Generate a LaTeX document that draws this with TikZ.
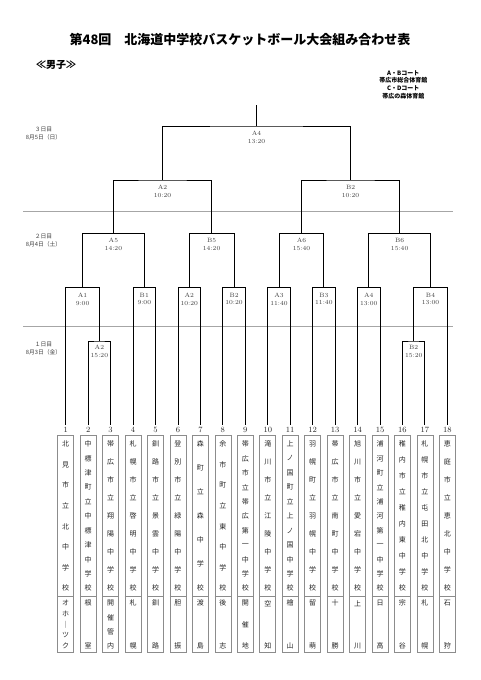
\documentclass[tikz,border=0pt]{standalone}
\usepackage{fontspec}
\newfontfamily\jp{Noto Sans CJK JP}
\usetikzlibrary{calc}
\newcommand\myteam[4]{%
  \node[num] (n#1) at (#2,430) {#1};
  \node[tbox] (box#1) at (#2,544.2) {};
  \coordinate (dv#1) at (#2,596);
  \draw[tline] (dv#1 -| box#1.west) -- (dv#1 -| box#1.east);
  \foreach \c [count=\n] in {#3} {\xdef\mycnt{\n}}
  \foreach \c [count=\k] in {#3} {\node[bchar] (c#1-\k) at (#2,{444+(\k-1)*144.3/(\mycnt-1)}) {\c};}
  \foreach \c [count=\n] in {#4} {\xdef\mycnt{\n}}
  \foreach \c [count=\k] in {#4} {\node[bchar] (d#1-\k) at (#2,{603.3+(\k-1)*42.4/(\mycnt-1)}) {\c};}
}
\begin{document}
\begin{tikzpicture}[x=1pt,y=-1pt,
  bline/.style={line width=0.9pt,black},
  sepline/.style={line width=0.8pt,black!35},
  tline/.style={line width=0.6pt,black!45},
  tbox/.style={draw=black!45,line width=0.7pt,minimum width=16pt,minimum height=217pt,inner sep=0pt},
  bchar/.style={font=\jp\fontsize{7}{7}\selectfont,text=black!85,inner sep=0pt},
  num/.style={font=\fontsize{8}{8}\selectfont,text=black!85,inner sep=0pt},
  mlabel/.style={font=\fontsize{6.2}{7.8}\selectfont,text=black!75,align=center,inner sep=0pt,anchor=north},
  daylbl/.style={font=\jp\fontsize{5.8}{7.7}\selectfont,text=black!75,align=center,inner sep=0pt}]
\useasboundingbox[fill=white] (0,0) rectangle (481,680);

% headings
\node[font=\jp\bfseries\fontsize{13}{13}\selectfont,inner sep=0pt] (title) at (240,40) {第48回　北海道中学校バスケットボール大会組み合わせ表};
\node[font=\jp\bfseries\fontsize{10}{10}\selectfont,anchor=west,inner sep=0pt] (boys) at (36,65) {≪男子≫};
\node[font=\jp\bfseries\fontsize{6}{7.7}\selectfont,align=center,inner sep=0pt] (courts) at (403.3,84.5) {A・Bコート\\帯広市総合体育館\\C・Dコート\\帯広の森体育館};

% day labels
\node[daylbl] (day3) at (43.5,133.8) {３日目\\8月5日（日）};
\node[daylbl] (day2) at (43.5,240.5) {２日目\\8月4日（土）};
\node[daylbl] (day1) at (43.5,348.6) {１日目\\8月3日（金）};

% separator lines
\coordinate (s1l) at (23.3,211); \coordinate (s1r) at (453.3,211);
\coordinate (s2l) at (23.3,326); \coordinate (s2r) at (453.3,326);
\draw[sepline] (s1l) -- (s1r);
\draw[sepline] (s2l) -- (s2r);

% team tops
\foreach \i/\xx in {1/65.70,2/88.15,3/110.60,4/133.05,5/155.50,6/177.95,7/200.40,8/222.85,9/245.30,10/267.75,11/290.20,12/312.65,13/335.10,14/357.55,15/380.00,16/402.45,17/424.90,18/447.35}
  {\coordinate (t\i) at (\xx,425);}

% match points
\coordinate (r1a) at (99.375,341);
\coordinate (r1b) at (413.675,341);
\coordinate (d2a1) at (82.5375,287.7);
\coordinate (d2b1) at (144.275,287.7);
\coordinate (d2a2) at (189.175,287.7);
\coordinate (d2b2) at (234.075,287.7);
\coordinate (d2a3) at (278.975,287.7);
\coordinate (d2b3) at (323.875,287.7);
\coordinate (d2a4) at (368.775,287.7);
\coordinate (d2b4) at (430.5125,287.7);
\coordinate (a5) at (113.40625,233.3);
\coordinate (b5) at (211.625,233.3);
\coordinate (a6) at (301.425,233.3);
\coordinate (b6) at (399.64375,233.3);
\coordinate (a2) at (162.515625,180);
\coordinate (b2) at (350.534375,180);
\coordinate (a4) at (256.525,126);
\coordinate (top) at (256.525,105);

% brackets
\draw[bline] (t2) |- (r1a) -| (t3);
\draw[bline] (t16) |- (r1b) -| (t17);
\draw[bline] (t1) |- (d2a1) -| (r1a);
\draw[bline] (t4) |- (d2b1) -| (t5);
\draw[bline] (t6) |- (d2a2) -| (t7);
\draw[bline] (t8) |- (d2b2) -| (t9);
\draw[bline] (t10) |- (d2a3) -| (t11);
\draw[bline] (t12) |- (d2b3) -| (t13);
\draw[bline] (t14) |- (d2a4) -| (t15);
\draw[bline] (r1b) |- (d2b4) -| (t18);
\draw[bline] (d2a1) |- (a5) -| (d2b1);
\draw[bline] (d2a2) |- (b5) -| (d2b2);
\draw[bline] (d2a3) |- (a6) -| (d2b3);
\draw[bline] (d2a4) |- (b6) -| (d2b4);
\draw[bline] (a5) |- (a2) -| (b5);
\draw[bline] (a6) |- (b2) -| (b6);
\draw[bline] (a2) |- (a4) -| (b2);
\draw[bline] (a4) -- (top);

% match labels
\node[mlabel] (la4) at ([yshift=-5pt]a4) {A4\\13:20};
\node[mlabel] (la2) at ([yshift=-5pt]a2) {A2\\10:20};
\node[mlabel] (lb2) at ([yshift=-5pt]b2) {B2\\10:20};
\node[mlabel] (la5) at ([yshift=-5pt]a5) {A5\\14:20};
\node[mlabel] (lb5) at ([yshift=-5pt]b5) {B5\\14:20};
\node[mlabel] (la6) at ([yshift=-5pt]a6) {A6\\15:40};
\node[mlabel] (lb6) at ([yshift=-5pt]b6) {B6\\15:40};
\node[mlabel] (ld2a1) at ([yshift=-5pt]d2a1) {A1\\9:00};
\node[mlabel] (ld2b1) at ([yshift=-5pt]d2b1) {B1\\9:00};
\node[mlabel] (ld2a2) at ([yshift=-5pt]d2a2) {A2\\10:20};
\node[mlabel] (ld2b2) at ([yshift=-5pt]d2b2) {B2\\10:20};
\node[mlabel] (ld2a3) at ([yshift=-5pt]d2a3) {A3\\11:40};
\node[mlabel] (ld2b3) at ([yshift=-5pt]d2b3) {B3\\11:40};
\node[mlabel] (ld2a4) at ([yshift=-5pt]d2a4) {A4\\13:00};
\node[mlabel] (ld2b4) at ([yshift=-5pt]d2b4) {B4\\13:00};
\node[mlabel] (lr1a) at ([yshift=-4pt]r1a) {A2\\15:20};
\node[mlabel] (lr1b) at ([yshift=-4pt]r1b) {B2\\15:20};

% teams
\myteam{1}{65.70}{北,見,市,立,北,中,学,校}{オ,ホ,｜,ツ,ク}
\myteam{2}{88.15}{中,標,津,町,立,中,標,津,中,学,校}{根,室}
\myteam{3}{110.60}{帯,広,市,立,翔,陽,中,学,校}{開,催,管,内}
\myteam{4}{133.05}{札,幌,市,立,啓,明,中,学,校}{札,幌}
\myteam{5}{155.50}{釧,路,市,立,景,雲,中,学,校}{釧,路}
\myteam{6}{177.95}{登,別,市,立,緑,陽,中,学,校}{胆,振}
\myteam{7}{200.40}{森,町,立,森,中,学,校}{渡,島}
\myteam{8}{222.85}{余,市,町,立,東,中,学,校}{後,志}
\myteam{9}{245.30}{帯,広,市,立,帯,広,第,一,中,学,校}{開,催,地}
\myteam{10}{267.75}{滝,川,市,立,江,陵,中,学,校}{空,知}
\myteam{11}{290.20}{上,ノ,国,町,立,上,ノ,国,中,学,校}{檜,山}
\myteam{12}{312.65}{羽,幌,町,立,羽,幌,中,学,校}{留,萌}
\myteam{13}{335.10}{帯,広,市,立,南,町,中,学,校}{十,勝}
\myteam{14}{357.55}{旭,川,市,立,愛,宕,中,学,校}{上,川}
\myteam{15}{380.00}{浦,河,町,立,浦,河,第,一,中,学,校}{日,高}
\myteam{16}{402.45}{稚,内,市,立,稚,内,東,中,学,校}{宗,谷}
\myteam{17}{424.90}{札,幌,市,立,屯,田,北,中,学,校}{札,幌}
\myteam{18}{447.35}{恵,庭,市,立,恵,北,中,学,校}{石,狩}
\end{tikzpicture}
\end{document}
